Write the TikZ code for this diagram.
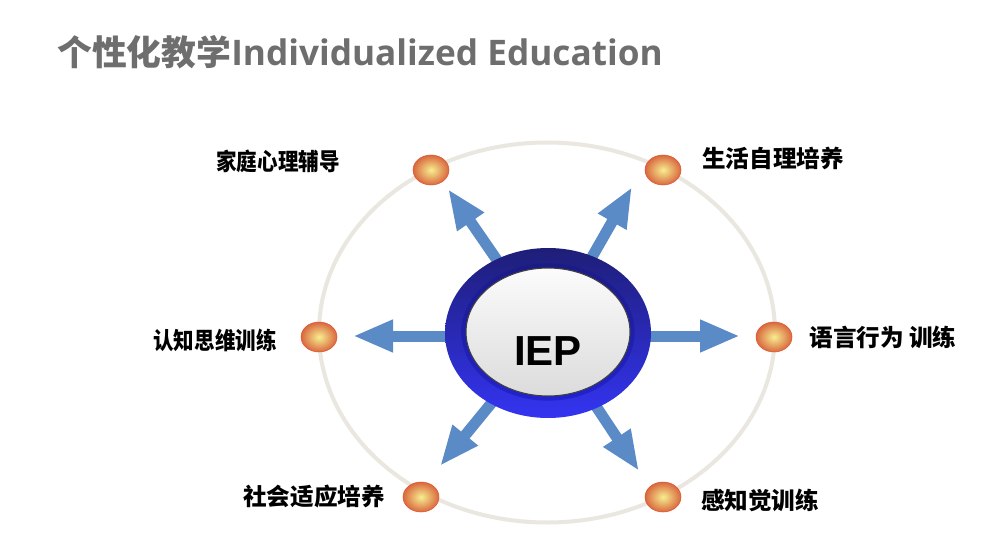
\documentclass[tikz,border=0pt]{standalone}
\usepackage{fontspec}
\usepackage{graphicx}
\setmainfont{Liberation Sans}
\newfontfamily\cjk{Noto Sans CJK SC}
\newfontfamily\lat{Open Sans}
\usetikzlibrary{arrows.meta,shapes.geometric}
\definecolor{titlegray}{HTML}{6E6E6E}
\definecolor{ringc}{HTML}{E9E7DF}
\definecolor{arrowc}{HTML}{5B8BC7}
\definecolor{navy}{HTML}{1E1E78}
\definecolor{midblue}{HTML}{4040DA}
\definecolor{brightblue}{HTML}{3434F2}
\definecolor{rimblue}{HTML}{2B2BC4}
\definecolor{dotin}{HTML}{F7EE90}
\definecolor{dotout}{HTML}{D9683E}
\tikzset{
  bigarrow/.style={draw=arrowc, line width=8.25pt, -{Triangle[width=22.5pt,length=30pt]}},
  dotnode/.style={ellipse, minimum width=27pt, minimum height=22.5pt, inner sep=0pt,
    draw=dotout!80!red, line width=0.4pt, shade, inner color=dotin, outer color=dotout},
  lbl/.style={font=\cjk\bfseries\fontsize{17.7pt}{20pt}\selectfont, text=black, inner sep=0pt},
}
\begin{document}
\begin{tikzpicture}[x=0.75pt,y=-0.75pt]
\useasboundingbox (0,0) rectangle (988,549);
\fill[white] (0,0) rectangle (988,549);

% title
\node[anchor=west, inner sep=0pt, text=titlegray] (title) at (57,52)
  {\cjk\bfseries\fontsize{26.1pt}{30pt}\selectfont 个性化教学\lat\bfseries\fontsize{26.4pt}{30pt}\selectfont Individualized Education};

% large ring
\draw[ringc, line width=3pt] (547,332.5) ellipse [x radius=228, y radius=190];

% arrows
\coordinate (cen) at (548,334);
\coordinate (tUL) at (448,189);
\coordinate (tUR) at (632,187);
\coordinate (tL) at (353,336);
\coordinate (tR) at (740,336);
\coordinate (tDL) at (440,466);
\coordinate (tDR) at (639,471);
\coordinate (cL) at (548,336);
\draw[bigarrow] (cen) -- (tUL);
\draw[bigarrow] (cen) -- (tUR);
\draw[bigarrow] (cL) -- (tL);
\draw[bigarrow] (cL) -- (tR);
\draw[bigarrow] (cen) -- (tDL);
\draw[bigarrow] (cen) -- (tDR);

% centre
\node[ellipse, minimum width=154.5pt, minimum height=127.5pt, inner sep=0pt,
  shade, shading angle=225, top color=navy, middle color=midblue, bottom color=brightblue] (outer) at (548,333) {};
\node[ellipse, minimum width=130pt, minimum height=103pt, inner sep=0pt,
  shade, top color=navy!90!blue, bottom color=rimblue!80!blue] (rim) at (548,332) {};
\node[ellipse, minimum width=123pt, minimum height=96pt, inner sep=0pt,
  draw=black!75, line width=0.8pt, shade, top color=white!97!gray, bottom color=gray!28] (inner) at (548,332) {};
\node[inner sep=0pt, font=\bfseries\fontsize{31.5pt}{34pt}\selectfont] (iep) at (548,351) {IEP};

% dots
\node[dotnode] (dUL) at (431,170) {};
\node[dotnode] (dUR) at (663,170) {};
\node[dotnode] (dL) at (319,337) {};
\node[dotnode] (dR) at (774,337) {};
\node[dotnode] (dDL) at (421,497) {};
\node[dotnode] (dDR) at (663,497) {};

% labels
\node[lbl] (lUL) at (278,161) {\scalebox{0.87}[1]{家庭心理辅导}};
\node[lbl] (lUR) at (773,158) {生活自理培养};
\node[lbl] (lL) at (215,340) {\scalebox{0.87}[1]{认知思维训练}};
\node[lbl] (lR) at (883,337) {语言行为 训练};
\node[lbl] (lDL) at (314,496) {社会适应培养};
\node[lbl] (lDR) at (760,500) {感知觉训练};
\end{tikzpicture}
\end{document}
